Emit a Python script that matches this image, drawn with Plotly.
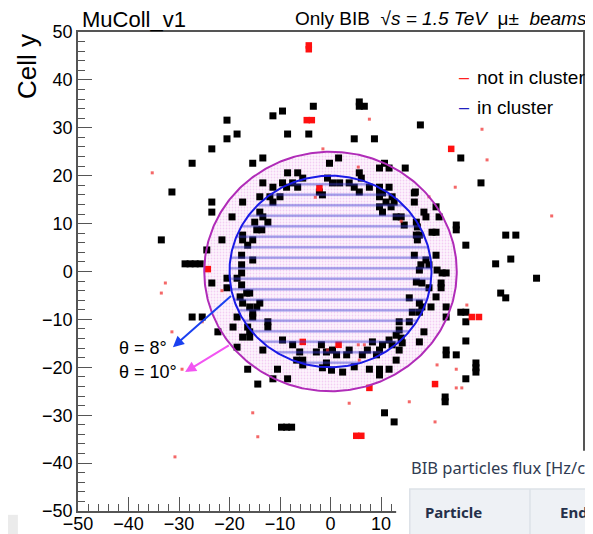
import numpy as np
import plotly.graph_objects as go

# ---------------- data (cell coordinates) ----------------
# hits belonging to a cluster (black boxes)
clu_x = [-3.4, -9.5, -11.4, -20.5, -18.5, -20.5, -8.5, -4.3, -23.5, -27.4, -13.4, -15.4, -31.4, -0.2, 1.6,
         5.7, 5.7, 6.7, 17.8, 4.7, 8.7, 25.8, 29.8, 16.8, 14.8, 11.6, 10.7, 9.7,
         -23.5, -23.5, -33.5, -24.5, -28.8, -27.8, -26.8, -25.8, -23.5, -21.5, -27.4, -25.4, -22.3, -19.3,
         34.7, 36.7, 35.7, 32.7, 40.8, 34.7, 33.7, 24.9, 24.9, 26.8, 25.8, 26.8, 26.8, 26.8,
         -9.7, -8.7, -7.7, -16.4, -10.5, -8.5, -11.4, -14.4,
         22.9, 22.9, 24.9, 28.8, 28.8, 28.8, 26.8, 22.7, 22.7, 10.7, 12.6,
         -8.5, -6.5, -13.4, -11.4, -9.5, -7.5, -6.5, -5.5, -8.7, -2.2, -1.6, -0.6, 1.8, 3.7, 0.4, 5.7, 4.7,
         7.7, 9.7, 11.6, 5.7, 9.7, 6.1,
         -14.0, -12.0, -10.0, -11.4, -17.4, -19.5, -15.0, -12.4, -14.0, -13.4,
         10.3, 9.7, 12.2, 11.0, 12.6, 9.7, 12.0, 10.3, 13.0, 14.0, 14.6, 16.6, 16.6, 18.5, 18.9, 20.9, 21.5,
         17.0, 17.2, 20.1, 20.9,
         -20.5, -20.5, -18.5, -17.6, -17.6, -17.6, -17.6, -15.4, -16.4, -15.4, -17.4, -17.4, -14.6, -13.6,
         -17.9, -16.6, -16.0, -17.4, -16.0, -14.6, -14.0, -18.5, -15.4, -15.4, -16.4, -16.0, -17.4, -16.0,
         -12.4, -12.4, -7.5, -1.8, -9.5, -18.5, -13.4, -6.1,
         17.0, 17.6, 17.2, 16.6, 18.9, 19.5, 17.9, 17.6, 20.9, 21.1, 22.1, 22.9, 17.0, 18.1, 19.5, 21.9, 21.9,
         15.6, 17.6, 20.9, 18.1, 19.9, 16.2, 17.6, 22.9, 22.9, 15.6, 13.6, 13.6, 13.0, 14.0, 11.6, 14.2, 12.2,
         10.3, 8.3, 18.5, 17.6,
         -6.7, -5.5, -5.5, -2.8, -0.8, -0.8, -1.6, 0.2, 13.0, 11.6, 9.7, 9.7, 7.7, 2.4, 4.7, 0.4, 3.7, 7.3,
         9.7, 13.6, 1.2, 3.2, 6.3, 9.1]
clu_y = [34.5, 33.5, 32.5, 31.6, 28.7, 27.7, 28.7, 28.7, 25.6, 22.6, 23.7, 22.6, 16.6, 22.6, 23.7,
         35.4, 34.5, 34.5, 30.6, 27.7, 27.7, 23.7, 18.5, 16.6, 21.6, 21.6, 22.6, 21.6,
         14.5, 12.4, 6.6, 4.5, 1.6, 1.6, 1.6, 1.6, -2.4, 6.6, -9.5, -9.5, -12.6, -11.6,
         7.6, 7.6, 2.6, 1.6, -1.4, -5.5, -4.5, 9.7, 8.7, 5.5, -8.5, -8.5, -10.5, -14.5,
         -32.5, -32.5, -32.5, -20.4, -20.4, -22.4, -22.4, -23.5,
         -16.4, -17.4, -17.4, -19.1, -20.1, -21.0, -22.4, -26.2, -27.2, -29.5, -31.4,
         20.6, 20.6, 18.5, 17.6, 18.5, 18.5, 17.6, 19.5, 17.6, 16.6, 16.0, 19.5, 18.5, 18.5, 18.5, 20.6, 17.6,
         17.6, 17.6, 17.6, 16.6, 16.6, 19.5,
         15.6, 15.6, 15.6, 14.5, 14.5, 11.4, 10.3, 10.3, 12.4, 11.4,
         16.4, 15.6, 15.6, 14.5, 14.5, 13.5, 13.5, 12.4, 11.4, 11.4, 9.7, 16.4, 14.5, 12.4, 11.4, 13.5, 11.4,
         10.3, 9.3, 8.2, 8.2,
         -1.4, -3.4, -1.4, 3.4, 1.4, -0.3, -2.8, 2.4, 5.5, 6.6, 6.6, 7.6, 8.7, 8.7,
         -5.3, -4.5, -4.5, -6.6, -7.4, -7.4, -6.6, -9.5, -8.7, -9.5, -11.6, -12.6, -13.7, -13.7,
         -10.5, -11.6, -15.3, -15.3, -14.3, -15.8, -16.4, -16.8,
         7.6, 7.6, 6.6, 3.4, 2.4, 1.4, 1.4, 0.3, 3.4, 0.3, -0.3, -0.3, -2.2, -2.4, -3.4, -2.4, -3.4,
         -5.5, -6.6, -5.3, -7.4, -7.4, -8.5, -8.5, -7.4, -9.5, -10.5, -10.5, -12.2, -13.3, -13.9, -14.3, -14.9, -15.3,
         -15.3, -14.7, -12.6, -14.7,
         -18.5, -18.5, -19.5, -16.8, -16.8, -19.1, -20.1, -20.6, -18.5, -20.4, -20.4, -21.6, -20.4, -21.0, -19.9, -16.4, -16.4, -16.4,
         -16.4, -16.4, -17.4, -17.4, -17.4, -17.4]

# hits not in a cluster, well populated cells (solid red boxes)
ncs_x = [-4.3, -4.3, -3.7, -4.7, 23.9, -24.3, 28.0, 29.4, 20.7, 7.7, 5.1, 6.1, 1.6, -5.5, -2.2]
ncs_y = [47.2, 46.4, 31.6, 31.6, 25.6, 0.5, -9.5, -9.5, -23.5, -24.3, -34.3, -34.3, -15.3, -14.7, 17.4]
# hits not in a cluster, faint cells (small red dots)
ncf_x = [-35.3, -1.5, 7.7, 30.0, 31.0, 24.7, 5.5, -32.7, -33.5, -25.4, -31.4, 19.5, 5.5, 6.7, 43.8, 27.0,
         -15.4, -14.4, -30.8, -29.4, -0.6, 21.1, 24.9, 24.9, 26.0, 15.6, 3.7, 20.7, 5.7, -21.5, -3.0, 14.0]
ncf_y = [20.6, 25.6, 31.8, 29.7, 23.3, 17.6, 21.8, -2.4, -4.5, -10.5, -12.6, 15.6, -15.3, -15.3, 11.6, -7.0,
         -29.5, -34.5, -38.7, -20.4, -16.4, -19.5, -20.4, -24.3, -24.3, -27.2, -27.5, -31.4, -18.5, -4.0, 15.5, 10.5]

# acceptance circles (radius in cells) for theta = 8 deg and theta = 10 deg
r_theta8 = 20.0
r_theta10 = 25.0
# arrows: start angle on circle (deg) and arrow tip (cells)
arrow8_angle, arrow8_tip = 194.0, (-31.2, -15.8)
arrow10_angle, arrow10_tip = 217.5, (-28.8, -21.0)

x_ticks = [-50, -40, -30, -20, -10, 0, 10]
y_ticks = [-50, -40, -30, -20, -10, 0, 10, 20, 30, 40, 50]

# ---------------- figure ----------------
FONT = "Liberation Sans, Arial, sans-serif"
WEB = "Noto Sans, Open Sans, sans-serif"
t = np.linspace(0, 2 * np.pi, 361)

fig = go.Figure()

# theta = 10 deg region (pink dotted), below the hits
fig.add_trace(go.Scatter(x=r_theta10 * np.cos(t), y=r_theta10 * np.sin(t), mode="lines", fill="toself",
                         showlegend=False, hoverinfo="skip",
                         line=dict(color="rgba(0,0,0,0)", width=0),
                         fillpattern=dict(shape=".", fgcolor="#e9a6ea", bgcolor="#fdf5fd",
                                          size=3, solidity=0.28)))

fig.add_trace(go.Scatter(x=clu_x, y=clu_y, mode="markers", showlegend=False, hoverinfo="skip",
                         marker=dict(symbol="square", size=7, color="black", line=dict(width=0))))
fig.add_trace(go.Scatter(x=ncs_x, y=ncs_y, mode="markers", showlegend=False, hoverinfo="skip",
                         marker=dict(symbol="square", size=6.5, color="#ff1010", line=dict(width=0))))
fig.add_trace(go.Scatter(x=ncf_x, y=ncf_y, mode="markers", showlegend=False, hoverinfo="skip",
                         marker=dict(symbol="square", size=3, color="rgba(240,40,40,0.7)", line=dict(width=0))))

# theta = 8 deg region (blue horizontal hatching), drawn over the hits
fig.add_trace(go.Scatter(x=r_theta8 * np.cos(t), y=r_theta8 * np.sin(t), mode="lines", fill="toself",
                         showlegend=False, hoverinfo="skip",
                         line=dict(color="#1a1ae6", width=2),
                         fillpattern=dict(shape="-", fgcolor="#3a3ad2", bgcolor="rgba(0,0,0,0)",
                                          size=10.5, solidity=0.22)))
# theta = 10 deg outline
fig.add_trace(go.Scatter(x=r_theta10 * np.cos(t), y=r_theta10 * np.sin(t), mode="lines",
                         showlegend=False, hoverinfo="skip", line=dict(color="#b02cb8", width=2)))

annotations = []
# arrows
for ang, r, tip, col in [(arrow8_angle, r_theta8, arrow8_tip, "#1a40f0"),
                         (arrow10_angle, r_theta10, arrow10_tip, "#f255f2")]:
    sx, sy = r * np.cos(np.radians(ang)), r * np.sin(np.radians(ang))
    annotations.append(dict(x=tip[0], y=tip[1], ax=sx, ay=sy, xref="x", yref="y", axref="x", ayref="y",
                            showarrow=True, arrowhead=2, arrowsize=1.1, arrowwidth=2, arrowcolor=col, text=""))
annotations += [
    dict(x=-42.3, y=-16.0, xref="x", yref="y", text="θ = 8°", showarrow=False, xanchor="left",
         font=dict(family=FONT, size=18, color="black")),
    dict(x=-42.3, y=-21.0, xref="x", yref="y", text="θ = 10°", showarrow=False, xanchor="left",
         font=dict(family=FONT, size=18, color="black")),
    # titles
    dict(x=0.003, y=1.027, xref="paper", yref="paper", text="MuColl_v1", showarrow=False,
         xanchor="left", yanchor="middle", font=dict(family=FONT, size=22, color="black")),
    dict(x=0.425, y=1.029, xref="paper", yref="paper",
         text="Only BIB  <i>√s = 1.5 TeV</i>  μ±  <i>beams</i>", showarrow=False,
         xanchor="left", yanchor="middle", font=dict(family=FONT, size=19, color="black")),
    dict(x=-0.1, y=0.928, xref="paper", yref="paper", text="Cell y", showarrow=False, textangle=-90,
         xanchor="center", yanchor="middle", font=dict(family=FONT, size=26, color="black")),
    # legend
    dict(x=0.778, y=0.906, xref="paper", yref="paper", text="–", showarrow=False, xanchor="right",
         yanchor="middle", font=dict(family=FONT, size=18, color="#ff2020")),
    dict(x=0.786, y=0.906, xref="paper", yref="paper", text="not in cluster", showarrow=False,
         xanchor="left", yanchor="middle", font=dict(family=FONT, size=19, color="black")),
    dict(x=0.778, y=0.843, xref="paper", yref="paper", text="–", showarrow=False, xanchor="right",
         yanchor="middle", font=dict(family=FONT, size=18, color="#2020c0")),
    dict(x=0.786, y=0.843, xref="paper", yref="paper", text="in cluster", showarrow=False,
         xanchor="left", yanchor="middle", font=dict(family=FONT, size=19, color="black")),
    # overlaid web-page table (cut at the right edge like the reference)
    dict(x=0.655, y=0.091, xref="paper", yref="paper", text="BIB particles flux [Hz/cm", showarrow=False,
         xanchor="left", yanchor="middle", font=dict(family=WEB, size=16.5, color="#2f3b52")),
    dict(x=0.683, y=-0.002, xref="paper", yref="paper", text="<b>Particle</b>", showarrow=False,
         xanchor="left", yanchor="middle", font=dict(family=WEB, size=15, color="#24304a")),
    dict(x=0.950, y=-0.002, xref="paper", yref="paper", text="<b>Endo</b>", showarrow=False,
         xanchor="left", yanchor="middle", font=dict(family=WEB, size=15, color="#24304a")),
]

shapes = [
    # white page area covering the lower right corner
    dict(type="rect", xref="paper", yref="paper", x0=0.630, x1=1.03, y0=-0.06, y1=0.126,
         fillcolor="white", line=dict(width=0), layer="above"),
    # table header
    dict(type="rect", xref="paper", yref="paper", x0=0.657, x1=1.03, y0=-0.06, y1=0.046,
         fillcolor="#eef1f5", line=dict(color="#dde2e8", width=1.5), layer="above"),
    dict(type="line", xref="paper", yref="paper", x0=0.895, x1=0.895, y0=-0.06, y1=0.046,
         line=dict(color="#dde2e8", width=1.5), layer="above"),
    # small grey box bottom-left
    dict(type="rect", xref="paper", yref="paper", x0=-0.16, x1=-0.119, y0=-0.048, y1=-0.008,
         fillcolor="#ebebeb", line=dict(width=0), layer="above"),
]

axis_common = dict(showgrid=False, zeroline=False, showline=True, mirror=True, linecolor="#555555",
                   linewidth=1.5, ticks="inside", ticklen=14, tickwidth=1.3, tickcolor="#555555",
                   automargin=False,
                   tickfont=dict(family=FONT, size=18, color="black"),
                   minor=dict(ticks="inside", ticklen=7, dtick=2, tickwidth=1.2, tickcolor="#555555"))

# the page body adds an 8 px offset, so the figure is 8 px smaller and margins are 8 px smaller
fig.update_layout(
    width=585, height=526,
    margin=dict(l=70, r=10, t=24, b=23),
    paper_bgcolor="white", plot_bgcolor="white",
    showlegend=False,
    xaxis=dict(range=[-50, 50], tickvals=x_ticks, ticktext=[str(v).replace("-", "−") for v in x_ticks],
               ticklabelstandoff=-4, **axis_common),
    yaxis=dict(range=[-50, 50], tickvals=y_ticks, ticktext=[str(v).replace("-", "−") for v in y_ticks],
               **axis_common),
    annotations=annotations,
    shapes=shapes,
)

fig.write_html("out.html")
